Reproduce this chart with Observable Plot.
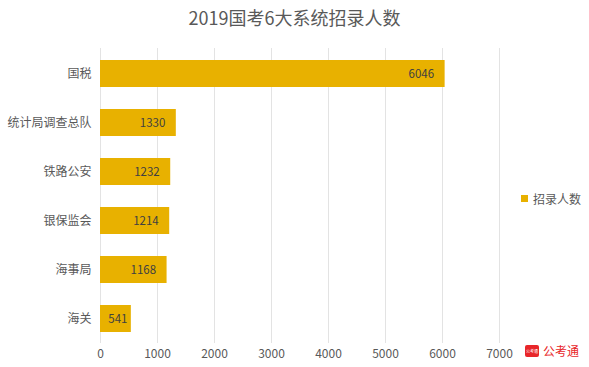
<!DOCTYPE html>
<html><head><meta charset="utf-8">
<script src="https://cdn.jsdelivr.net/npm/d3@7"></script>
<script src="https://cdn.jsdelivr.net/npm/@observablehq/plot@0.6"></script>
<style>
body{margin:0;background:#fff;font-family:"Noto Sans CJK SC","Noto Sans",sans-serif;}
#wrap{position:relative;width:589px;height:367px;}
#title{position:absolute;left:0;top:4px;width:589px;text-align:center;font-size:18px;color:#595959;}
#chart{position:absolute;left:0;top:40px;}
#chart svg{display:block;}
#legend{position:absolute;left:521px;top:190px;font-size:12px;color:#595959;display:flex;align-items:center;}
#legend span.sw{display:inline-block;width:7px;height:7px;background:#E8B100;margin-right:5px;}
#wm{position:absolute;left:525px;top:342px;display:flex;align-items:center;font-size:12px;color:#E8262A;}
#wm span.ic{display:inline-block;width:14px;height:12px;background:#E8262A;border-radius:2px;margin-right:4px;color:#fff;font-size:4px;line-height:12px;text-align:center;}
</style></head>
<body><div id="wrap">
<div id="title">2019国考6大系统招录人数</div>
<div id="chart"></div>
<div id="legend"><span class="sw"></span>招录人数</div>
<div id="wm"><span class="ic">公考通</span>公考通</div>
</div>
<script>
const categories = ["国税","统计局调查总队","铁路公安","银保监会","海事局","海关"];
const values = [6046,1330,1232,1214,1168,541];
const xTicks = [0,1000,2000,3000,4000,5000,6000,7000];
const seriesName = "招录人数";
const data = categories.map((c,i)=>({cat:c, v:values[i]}));
const wide = data.filter(d=>d.v>=1000);
const narrow = data.filter(d=>d.v<1000);
const chart = Plot.plot({
  width:589, height:327,
  marginLeft:100, marginRight:90, marginTop:8, marginBottom:24,
  style:{fontFamily:'"Noto Sans CJK SC","Noto Sans",sans-serif', fontSize:"12px", color:"#595959", background:"#fff"},
  x:{domain:[0,7000], ticks:xTicks, grid:false, label:null},
  y:{domain:categories, paddingInner:0.457, paddingOuter:0.2285, label:null},
  marks:[
    Plot.ruleX(xTicks,{stroke:"#e3e3e3", strokeWidth:1}),
    Plot.barX(data,{x:"v", y:"cat", fill:"#E8B100"}),
    Plot.text(wide,{x:"v", y:"cat", text:d=>String(d.v), textAnchor:"end", dx:-11, fill:"#404040", fontSize:11.5}),
    Plot.text(narrow,{x:d=>d.v/2, y:"cat", text:d=>String(d.v), textAnchor:"middle", dx:2, fill:"#404040", fontSize:11.5}),
    Plot.axisX({ticks:xTicks, tickFormat:d=>String(d), tickSize:0, tickPadding:6, fontSize:12, fill:"#595959", label:null}),
    Plot.axisY({tickSize:0, tickPadding:9, fontSize:12, fill:"#595959", label:null})
  ]
});
document.getElementById("chart").appendChild(chart);
</script>
</body></html>
